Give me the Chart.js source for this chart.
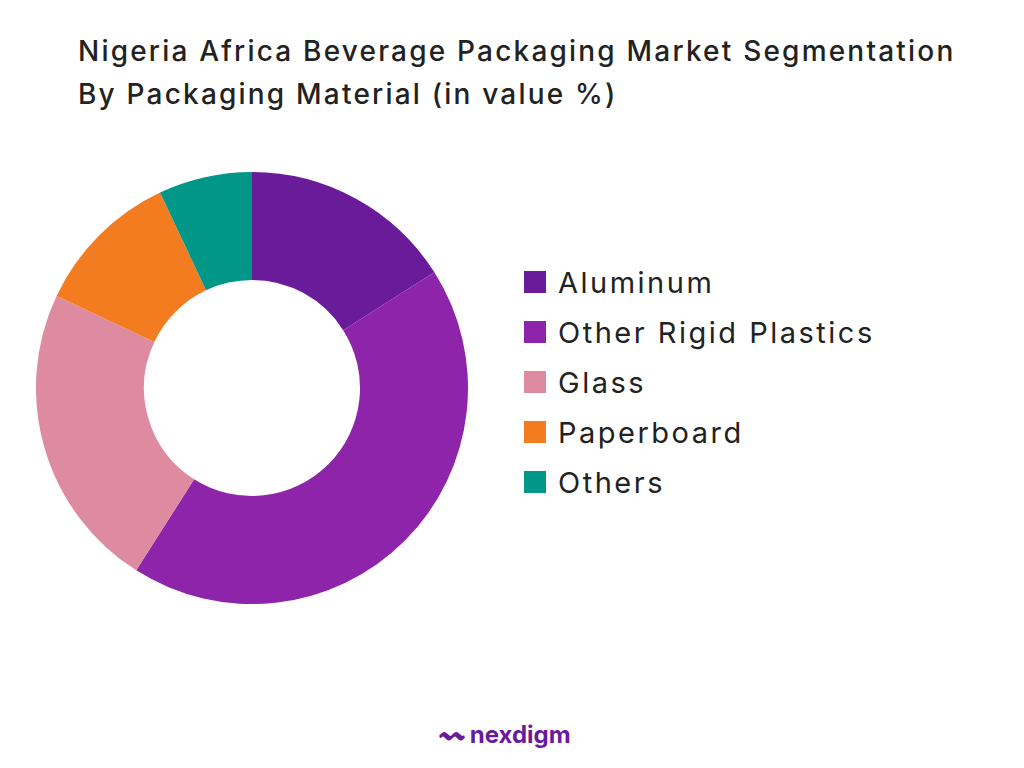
<!DOCTYPE html>
<html>
<head>
<meta charset="utf-8">
<script src="https://cdn.jsdelivr.net/npm/chart.js@4"></script>
<style>
body { margin:0; width:1024px; height:768px; background:#fff; font-family:Inter, "Open Sans", sans-serif; position:relative; overflow:hidden; }
#title { position:absolute; left:78px; top:30px; font-size:28px; letter-spacing:2.2px; line-height:43px; color:#222; font-weight:500; }
#wrap { position:absolute; left:36px; top:172px; width:432px; height:432px; }
#legend { position:absolute; left:524px; top:257px; }
.item { display:flex; align-items:center; height:50px; font-size:29px; letter-spacing:2.5px; color:#222; }
.box { width:22px; height:22px; margin-right:12px; }
#logo { position:absolute; left:440px; top:715px; font-size:24px; font-weight:700; color:#6a1b9a; }
</style>
</head>
<body>
<div id="title">Nigeria Africa Beverage Packaging Market Segmentation<br>By Packaging Material (in value %)</div>
<div id="wrap"><canvas id="myChart"></canvas></div>
<div id="legend"></div>
<div id="logo">〰 nexdigm</div>
<script>
var materials = ['Aluminum', 'Other Rigid Plastics', 'Glass', 'Paperboard', 'Others'];
var shares = [16, 43, 23, 11, 7];
var colors = ['#6a1b9a', '#8e24aa', '#de8aa0', '#f47c20', '#009688'];

var ctx = document.getElementById('myChart').getContext('2d');
var chart = new Chart(ctx, {
	type: 'doughnut',
	data: {
		labels: materials,
		datasets: [{
			data: shares,
			backgroundColor: colors,
			borderWidth: 0
		}]
	},
	options: {
		responsive: true,
		maintainAspectRatio: false,
		animation: false,
		cutout: '50%',
		plugins: { legend: { display: false }, tooltip: { enabled: false } }
	}
});

// legend built from the same arrays
var legend = document.getElementById('legend');
materials.forEach(function(m, i) {
	var row = document.createElement('div');
	row.className = 'item';
	row.innerHTML = '<span class="box" style="background:' + colors[i] + '"></span>' + m;
	legend.appendChild(row);
});
</script>
</body>
</html>
